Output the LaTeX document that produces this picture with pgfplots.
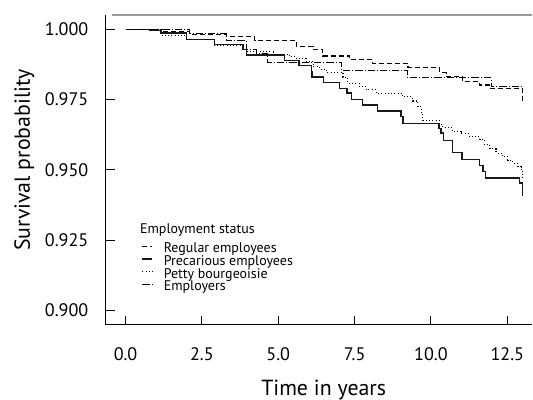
\documentclass[border=0pt]{standalone}
\usepackage{fontspec}
\setmainfont{PT Sans}
\usepackage{pgfplots}
\pgfplotsset{compat=1.18}
\begin{document}
\begin{tikzpicture}
\begin{axis}[
  scale only axis, width=320.5pt, height=232.5pt,
  xmin=-0.654, xmax=13.32, ymin=0.895, ymax=1.0051,
  axis x line*=bottom, axis y line*=left,
  axis line style={-, line width=1pt, black},
  tick align=inside, major tick length=6.75pt,
  tick style={line width=0.8pt, black},
  xtick={0,2.5,5,7.5,10,12.5},
  ytick={0.9,0.925,0.95,0.975,1.0},
  /pgf/number format/assume math mode=true,
  tick label style={font=\fontsize{13.6}{16}\selectfont},
  xticklabel style={/pgf/number format/.cd, fixed, fixed zerofill, precision=1, /tikz/.cd, anchor=north, inner sep=0pt, yshift=-17.25pt},
  yticklabel style={/pgf/number format/.cd, fixed, fixed zerofill, precision=3, /tikz/.cd, anchor=east, inner sep=0pt, xshift=-12.75pt},
  xlabel={Time in years},
  ylabel={Survival probability},
  xlabel style={at={(axis description cs:0.511,-0.229)}, anchor=base, inner sep=0pt, font=\fontsize{16.4}{18}\selectfont},
  ylabel style={at={(axis description cs:-0.1772,0.532)}, anchor=base, inner sep=0pt, font=\fontsize{16.4}{18}\selectfont},
  clip=false,
  legend cell align=left,
  legend style={draw=none, fill=none, at={(axis cs:0.523,0.9240)}, anchor=north west, inner sep=0pt,
    font=\fontsize{10.5}{10.5}\selectfont, row sep=0pt,
    nodes={inner sep=0pt, text height=7.2pt, text depth=2.3pt}},
  legend image code/.code={\draw[#1] (0pt,2.4pt) -- (7.5pt,2.4pt); \path (0pt,0pt) (15.5pt,0pt);},
]
% Regular employees
\addplot[const plot, black, line width=0.85pt, dash pattern=on 3.75pt off 2.25pt] coordinates {
(0,1.0) (0.79,0.9997) (1.18,0.9992) (2.10,0.9982) (3.30,0.9975) (4.23,0.9960) (5.59,0.9940) (6.14,0.9927) (6.46,0.9905) (7.33,0.9893) (8.10,0.9877) (9.25,0.9865) (10.28,0.9846) (10.50,0.9832) (11.04,0.9814) (11.59,0.9802) (11.92,0.9790) (13.0,0.9737)
};
\addlegendentry{Regular employees}
% Precarious employees
\addplot[const plot, black!90, line width=1pt] coordinates {
(0,1.0) (0.79,0.9995) (1.16,0.9987) (1.99,0.9964) (2.92,0.9945) (3.85,0.9928) (3.95,0.9909) (5.21,0.9890) (5.68,0.9871) (6.08,0.9850) (6.11,0.9830) (6.48,0.9810) (7.01,0.9790) (7.25,0.9773) (7.39,0.9750) (7.75,0.9731) (8.26,0.9710) (9.02,0.9690) (9.08,0.9666) (10.26,0.9648) (10.33,0.9631) (10.41,0.9604) (10.71,0.9562) (11.02,0.9538) (11.59,0.9515) (11.70,0.9494) (11.78,0.9471) (12.89,0.9453) (13.0,0.9406)
};
\addlegendentry{Precarious employees}
% Petty bourgeoisie
\addplot[const plot, black, line width=0.8pt, dash pattern=on 0.75pt off 1.7pt] coordinates {
(0,1.0) (1.2,0.9977) (2.0,0.9965) (2.9,0.9942) (3.95,0.9920) (4.83,0.9912) (5.37,0.9903) (5.59,0.9897) (5.92,0.9885) (6.14,0.9867) (6.35,0.9858) (6.57,0.9848) (7.12,0.9830) (7.28,0.9808) (7.66,0.9795) (7.88,0.9785) (8.21,0.9773) (9.08,0.9760) (9.41,0.9745) (9.57,0.9725) (9.68,0.9700) (9.73,0.9676) (10.28,0.9660) (10.39,0.9650) (10.71,0.9636) (10.99,0.9628) (11.26,0.9618) (11.59,0.9609) (11.75,0.9590) (11.92,0.9575) (12.13,0.9560) (12.35,0.9548) (12.51,0.9535) (12.67,0.9524) (12.84,0.9512) (12.95,0.9500) (13.0,0.9470)
};
\addlegendentry{Petty bourgeoisie}
% Employers
\addplot[const plot, black, line width=0.85pt, dash pattern=on 5.5pt off 1.5pt on 0.75pt off 1.5pt] coordinates {
(0,1.0) (2.10,0.9986) (3.30,0.9960) (3.95,0.9927) (4.28,0.9915) (4.66,0.9882) (7.06,0.9853) (9.24,0.9828) (11.97,0.9796) (13.0,0.9773)
};
\addlegendentry{Employers}
\node[anchor=base west, inner sep=0pt, font=\fontsize{10.5}{10.5}\selectfont] at (axis cs:0.468,0.92733) {Employment status};
\draw[black!40, line width=0.8pt] (rel axis cs:0.015,1) -- (rel axis cs:1,1);
\coordinate (TL) at (rel axis cs:0,1);
\coordinate (BR) at (rel axis cs:1,0);
\end{axis}
\path ([shift={(-79.3pt,11.25pt)}]TL) rectangle ([shift={(0pt,-55.5pt)}]BR);
\end{tikzpicture}
\end{document}
